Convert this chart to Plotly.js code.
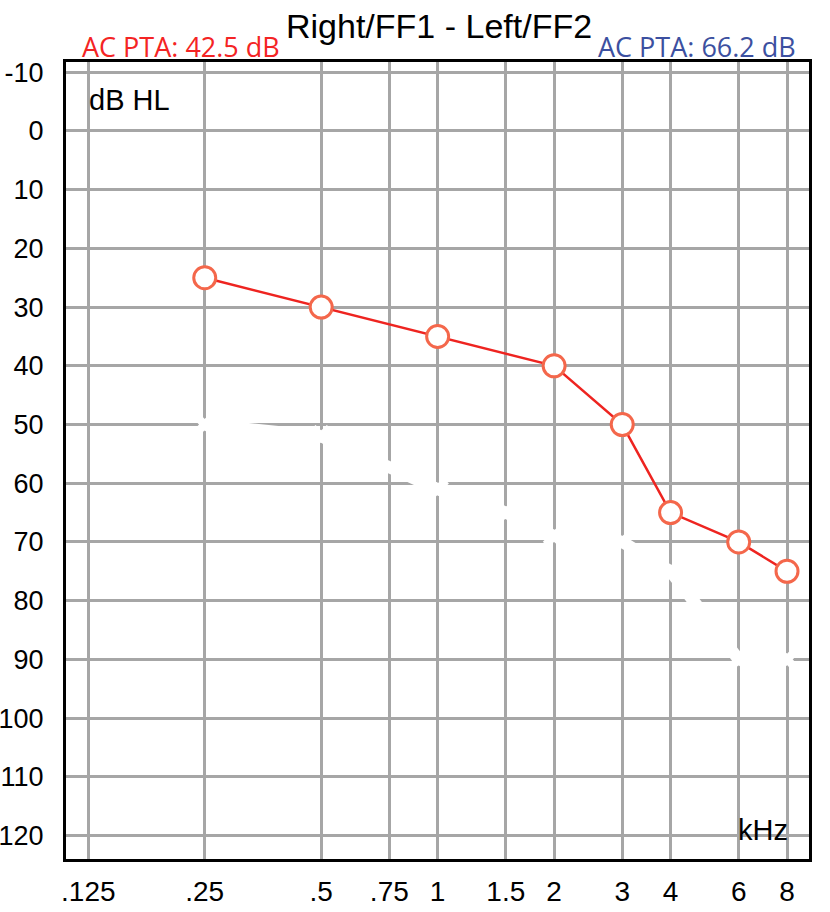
<!DOCTYPE html>
<html>
<head>
<meta charset="utf-8">
<script src="https://cdn.plot.ly/plotly-3.0.1.min.js"></script>
<style>
  html, body { margin: 0; padding: 0; background: #ffffff; }
  #chart { width: 830px; height: 912px; }
</style>
</head>
<body>
<div id="chart"></div>
<script>
// ---- data ----
const rightFreqs = [0.25, 0.5, 1, 2, 3, 4, 6, 8];
const rightDb    = [25, 30, 35, 40, 50, 65, 70, 75];

// erased (white) left-ear trace visible as white gaps in the grid
const erasedFreqs = [0.25, 0.5, 1, 1.5, 2, 3, 4, 6, 8];
const erasedDb    = [50, 52, 61, 65, 69, 70, 75, 90, 90];

const freqTicks  = [0.125, 0.25, 0.5, 0.75, 1, 1.5, 2, 3, 4, 6, 8];
const freqLabels = ['.125', '.25', '.5', '.75', '1', '1.5', '2', '3', '4', '6', '8'];
const dbTicks    = [-10, 0, 10, 20, 30, 40, 50, 60, 70, 80, 90, 100, 110, 120];
const dbLabels   = ['-10', '0', '10', '20', '30', '40', '50', '60', '70', '80', '90', '100', '110', '120'];

const titleText = 'Right/FF1 - Left/FF2';
const rightPta  = 'AC PTA: 42.5 dB';
const leftPta   = 'AC PTA: 66.2 dB';

// ---- traces ----
const traces = [
  {
    x: erasedFreqs, y: erasedDb,
    type: 'scatter', mode: 'lines+markers',
    line: { color: '#ffffff', width: 12 },
    marker: { color: '#ffffff', size: 20, symbol: 'x' },
    hoverinfo: 'skip', showlegend: false
  },
  {
    x: rightFreqs, y: rightDb,
    type: 'scatter', mode: 'lines+markers',
    line: { color: '#ee2420', width: 2.5 },
    marker: { symbol: 'circle', size: 22, color: '#ffffff',
              line: { color: '#f4674b', width: 3 } },
    showlegend: false
  }
];

const layout = {
  width: 830, height: 912,
  margin: { l: 66, r: 21, t: 62, b: 53 },
  paper_bgcolor: '#ffffff',
  plot_bgcolor: '#ffffff',
  showlegend: false,
  font: { family: 'Liberation Sans, Arial, sans-serif', color: '#000000' },
  xaxis: {
    type: 'log',
    range: [-0.9607, 0.9599],
    tickmode: 'array',
    tickvals: freqTicks,
    ticktext: freqLabels,
    showgrid: true, gridcolor: '#a6a6a6', gridwidth: 3,
    zeroline: false,
    showline: true, linecolor: '#000000', linewidth: 3, mirror: true,
    ticks: '', ticklabelstandoff: 5,
    tickfont: { family: 'Liberation Sans, Arial, sans-serif', size: 28, color: '#000000' }
  },
  yaxis: {
    range: [124, -11.75],
    tickmode: 'array',
    tickvals: dbTicks,
    ticktext: dbLabels,
    showgrid: true, gridcolor: '#a6a6a6', gridwidth: 3,
    zeroline: false,
    showline: true, linecolor: '#000000', linewidth: 3, mirror: true,
    ticks: '', ticklabelstandoff: 14,
    tickfont: { family: 'Liberation Sans, Arial, sans-serif', size: 27, color: '#000000' }
  },
  annotations: [
    { text: titleText, xref: 'paper', yref: 'paper', x: 0.502, y: 1.045,
      xanchor: 'center', yanchor: 'middle', showarrow: false,
      font: { family: 'Liberation Sans, Arial, sans-serif', size: 34, color: '#000000' } },
    { text: rightPta, xref: 'paper', yref: 'paper', x: 0.0188, y: 1.020,
      xanchor: 'left', yanchor: 'middle', showarrow: false,
      font: { family: 'Open Sans, sans-serif', size: 27, color: '#f42424' } },
    { text: leftPta, xref: 'paper', yref: 'paper', x: 0.985, y: 1.020,
      xanchor: 'right', yanchor: 'middle', showarrow: false,
      font: { family: 'Open Sans, sans-serif', size: 27, color: '#3c50a0' } },
    { text: 'dB HL', xref: 'paper', yref: 'paper', x: 0.0283, y: 0.952,
      xanchor: 'left', yanchor: 'middle', showarrow: false,
      font: { family: 'Liberation Sans, Arial, sans-serif', size: 29, color: '#000000' } },
    { text: 'kHz', xref: 'paper', yref: 'paper', x: 0.975, y: 0.036,
      xanchor: 'right', yanchor: 'middle', showarrow: false,
      font: { family: 'Liberation Sans, Arial, sans-serif', size: 29, color: '#000000' } }
  ]
};

Plotly.newPlot('chart', traces, layout, { displayModeBar: false, staticPlot: true });
</script>
</body>
</html>
